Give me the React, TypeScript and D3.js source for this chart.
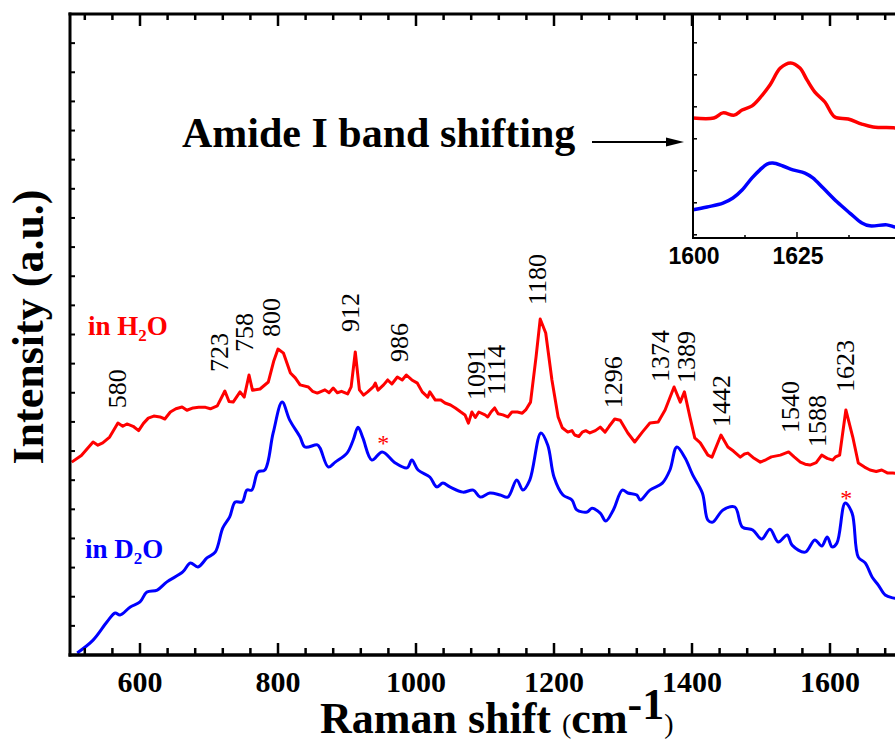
import React from 'react';
import * as d3 from 'd3';

type Pt = [number, number];

// Raman spectrum in H2O: [shift (cm-1), intensity (a.u.)]
const h2oSpectrum: Pt[] = [
  [501, 6.62], [515, 6.85], [532, 7.31], [539, 7.2], [546, 7.28], [556, 7.48], [568, 7.96], [575, 7.85],
  [581, 7.93], [590, 7.85], [598, 7.7], [605, 7.95], [612, 8.13], [620, 8.2], [629, 8.17], [636, 8.1],
  [644, 8.34], [652, 8.45], [661, 8.51], [668, 8.4], [677, 8.48], [685, 8.5], [695, 8.5], [702, 8.45],
  [712, 8.55], [723, 9.06], [729, 8.7], [735, 8.68], [745, 9.03], [751, 8.85], [758, 9.61], [763, 9.09],
  [774, 9.13], [786, 9.37], [794, 10.1], [800, 10.5], [808, 10.36], [818, 9.68], [825, 9.51], [832, 9.27],
  [844, 9.2], [850, 9.05], [857, 8.99], [868, 9.1], [874, 9.0], [880, 9.16], [886, 9.0], [892, 9.05],
  [901, 8.96], [906, 9.2], [912, 10.4], [918, 9.1], [924, 8.92], [930, 9.03], [938, 9.2], [941, 9.33],
  [945, 9.09], [953, 9.27], [959, 9.44], [965, 9.3], [973, 9.54], [980, 9.44], [986, 9.61], [994, 9.44],
  [1002, 9.33], [1009, 9.03], [1017, 8.85], [1020, 9.03], [1028, 8.75], [1036, 8.75], [1042, 8.65],
  [1050, 8.58], [1057, 8.48], [1065, 8.34], [1071, 8.24], [1076, 7.96], [1081, 8.34], [1086, 8.15],
  [1091, 8.34], [1100, 8.24], [1104, 8.17], [1109, 8.35], [1114, 8.48], [1119, 8.28], [1126, 8.24],
  [1133, 8.17], [1139, 8.34], [1147, 8.34], [1154, 8.3], [1159, 8.41], [1166, 8.68], [1174, 10.23],
  [1180, 11.53], [1188, 11.05], [1197, 9.44], [1206, 8.17], [1212, 7.8], [1220, 7.65], [1226, 7.7],
  [1230, 7.55], [1236, 7.5], [1241, 7.65], [1246, 7.7], [1252, 7.62], [1260, 7.7], [1267, 7.82],
  [1274, 7.65], [1280, 7.85], [1288, 8.1], [1296, 8.06], [1307, 7.62], [1317, 7.31], [1328, 7.65],
  [1339, 7.96], [1351, 8.0], [1361, 8.41], [1374, 9.2], [1383, 8.68], [1389, 9.03], [1397, 8.17],
  [1404, 7.45], [1412, 7.28], [1423, 6.86], [1429, 6.79], [1442, 7.55], [1452, 7.14], [1460, 7.0],
  [1470, 6.79], [1476, 6.9], [1481, 6.93], [1490, 6.75], [1499, 6.62], [1507, 6.7], [1515, 6.8],
  [1528, 6.86], [1540, 6.97], [1548, 6.8], [1557, 6.62], [1564, 6.55], [1571, 6.52], [1580, 6.6],
  [1588, 6.86], [1596, 6.75], [1604, 6.69], [1608, 6.8], [1614, 6.86], [1623, 8.41], [1633, 7.48],
  [1641, 6.59], [1650, 6.45], [1658, 6.35], [1667, 6.3], [1675, 6.35], [1683, 6.25], [1691, 6.25],
  [1700, 6.22],
];

// Raman spectrum in D2O: [shift (cm-1), intensity (a.u.)]
const d2oSpectrum: Pt[] = [
  [509, 0.07], [532, 0.51], [552, 1.13], [564, 1.44], [571, 1.37], [586, 1.65], [600, 1.82], [610, 2.16],
  [625, 2.23], [639, 2.51], [662, 2.85], [673, 3.16], [684, 3.02], [697, 3.33], [709, 3.53], [720, 4.36],
  [730, 4.74], [738, 5.25], [748, 5.25], [755, 5.66], [762, 5.66], [771, 6.28], [781, 6.35], [793, 7.62],
  [806, 8.68], [817, 8.06], [832, 7.48], [839, 7.14], [857, 7.21], [861, 7.1], [873, 6.45], [883, 6.62],
  [900, 6.93], [909, 7.38], [916, 7.82], [923, 7.45], [936, 6.69], [951, 6.97], [970, 6.59], [987, 6.42],
  [994, 6.69], [1003, 6.35], [1020, 6.11], [1030, 5.77], [1039, 5.9], [1049, 5.77], [1068, 5.59],
  [1083, 5.66], [1093, 5.42], [1107, 5.56], [1122, 5.49], [1133, 5.42], [1146, 6.01], [1155, 5.66],
  [1165, 6.01], [1181, 7.62], [1191, 7.2], [1200, 6.11], [1213, 5.49], [1226, 5.32], [1233, 4.98],
  [1248, 4.91], [1255, 5.04], [1267, 4.87], [1275, 4.6], [1286, 4.98], [1299, 5.66], [1307, 5.56],
  [1320, 5.49], [1325, 5.32], [1339, 5.66], [1357, 5.9], [1368, 6.35], [1378, 7.14], [1390, 6.76],
  [1401, 6.18], [1415, 5.56], [1423, 4.63], [1430, 4.56], [1445, 4.98], [1462, 5.08], [1473, 4.39],
  [1488, 4.29], [1501, 3.98], [1513, 4.32], [1525, 3.88], [1538, 4.12], [1545, 3.77], [1564, 3.53],
  [1578, 3.95], [1588, 3.74], [1596, 4.05], [1603, 3.71], [1610, 3.84], [1622, 5.22], [1632, 4.87],
  [1641, 3.36], [1651, 3.16], [1661, 2.68], [1670, 2.4], [1680, 2.06], [1691, 1.96], [1700, 1.93],
];

// Amide I region, zoomed
const h2oAmide: Pt[] = [
  [1600, 3.65], [1605, 3.65], [1607.2, 3.81], [1609.9, 3.74], [1611.8, 3.9], [1614.2, 4.03],
  [1616.1, 4.28], [1618.5, 4.68], [1621, 5.21], [1623.5, 5.37], [1625.7, 5.21], [1627.4, 4.84],
  [1629.3, 4.46], [1631.7, 4.15], [1634.1, 3.68], [1637.3, 3.62], [1640.6, 3.46], [1643.3, 3.37],
  [1648.6, 3.34], [1650, 3.31],
];
const d2oAmide: Pt[] = [
  [1600, 0.78], [1603.4, 0.87], [1607.2, 0.99], [1609.6, 1.15], [1611.8, 1.4], [1614.2, 1.78],
  [1616.1, 2.03], [1617.8, 2.21], [1619.2, 2.24], [1621.6, 2.15], [1624, 2.03], [1626.9, 1.93],
  [1628.8, 1.78], [1631.3, 1.46], [1634.6, 1.03], [1637.7, 0.68], [1640.6, 0.37], [1642.5, 0.28],
  [1646.6, 0.31], [1648.6, 0.24], [1650, 0.22],
];

const peakLabels = [580, 723, 758, 800, 912, 986, 1091, 1114, 1180, 1296, 1374, 1389, 1442, 1540, 1588, 1623];
// per-label horizontal nudge and lift above the H2O trace, px
const peakLabelNudge: [number, number][] = [
  [-9, 16], [-6, 19], [-5, 23], [-7, 12], [-5, 20], [-7, 13], [-3, 12], [1, 13],
  [-3, 14], [-7, 12], [-14, 5], [2, 9], [0, 8], [1, 19], [-5, 8], [-1, 18],
];
const d2oMarked = [951, 1622];

const xTickLabels = [600, 800, 1000, 1200, 1400, 1600];
const insetTickLabels = [1600, 1625];

const SERIF = "'Times New Roman', 'Liberation Serif', serif";
const SANS = "Arial, 'Liberation Sans', sans-serif";

function valueAt(data: Pt[], w: number) {
  const i = d3.bisector((d: Pt) => d[0]).left(data, w);
  if (i <= 0) return data[0][1];
  if (i >= data.length) return data[data.length - 1][1];
  const a = data[i - 1], b = data[i];
  return a[1] + ((w - a[0]) / (b[0] - a[0])) * (b[1] - a[1]);
}

export default function App() {
  const x = d3.scaleLinear().domain([500, 1700]).range([71, 899]);
  const y = d3.scaleLinear().domain([0, 22]).range([655, 14]);
  const ix = d3.scaleLinear().domain([1600, 1650]).range([693, 901]);
  const iy = d3.scaleLinear().domain([-0.1, 6.9]).range([238, 14]);

  const rough = d3.line<Pt>().x((d) => x(d[0])).y((d) => y(d[1]));
  const smooth = d3.line<Pt>().x((d) => x(d[0])).y((d) => y(d[1])).curve(d3.curveCatmullRom.alpha(0.5));
  const insetLine = d3.line<Pt>().x((d) => ix(d[0])).y((d) => iy(d[1])).curve(d3.curveCatmullRom.alpha(0.5));

  const xTicks = d3.range(520, 1700, 40);
  const yTicks = d3.range(1, 22);
  const insetYTicks = d3.range(0, 7);
  const insetXTicks = [1612.5, 1625, 1637.5];

  const left = 70, top = 14, bottom = 655;

  return (
    <svg width={895} height={742} style={{ position: 'absolute', left: 0, top: 0, background: '#fff' }}>
      <rect x={0} y={0} width={895} height={742} fill="#fff" />

      {/* spectra */}
      <path d={rough(h2oSpectrum) || ''} fill="none" stroke="#ff0000" strokeWidth={3} strokeLinejoin="round" />
      <path d={smooth(d2oSpectrum) || ''} fill="none" stroke="#0000ff" strokeWidth={3} strokeLinejoin="round" />

      {/* peak assignments */}
      {peakLabels.map((p, i) => {
        const [dx, lift] = peakLabelNudge[i];
        const cx = x(p) + dx;
        const by = y(valueAt(h2oSpectrum, p)) - lift;
        return (
          <text key={p} transform={`translate(${cx + 9},${by}) rotate(-90)`} fontFamily={SERIF} fontSize={26} fill="#000">
            {p}
          </text>
        );
      })}
      {d2oMarked.map((p, i) => (
        <text key={p} x={x(p) + 1} y={y(valueAt(d2oSpectrum, p)) - (i === 0 ? 1 : -3)}
          fontFamily={SERIF} fontSize={24} fill="#ff0000" textAnchor="middle">*</text>
      ))}

      {/* series labels */}
      <text x={88} y={335} fontFamily={SERIF} fontWeight="bold" fontSize={27} fill="#ff0000">
        in H<tspan fontSize={17} dy={6}>2</tspan><tspan dy={-6}>O</tspan>
      </text>
      <text x={85} y={558} fontFamily={SERIF} fontWeight="bold" fontSize={27} fill="#0000ff">
        in D<tspan fontSize={17} dy={6}>2</tspan><tspan dy={-6}>O</tspan>
      </text>

      {/* inset */}
      <rect x={693} y={top} width={210} height={238 - top} fill="#fff" />
      <path d={insetLine(h2oAmide) || ''} fill="none" stroke="#ff0000" strokeWidth={3.5} />
      <path d={insetLine(d2oAmide) || ''} fill="none" stroke="#0000ff" strokeWidth={3.5} />
      <line x1={693} x2={693} y1={top} y2={239} stroke="#000" strokeWidth={2} />
      <line x1={692} x2={902} y1={238} y2={238} stroke="#000" strokeWidth={2} />
      {insetYTicks.map((t) => (
        <line key={t} x1={693} x2={697} y1={iy(t)} y2={iy(t)} stroke="#000" strokeWidth={1.5} />
      ))}
      {insetXTicks.map((t) => (
        <line key={t} x1={ix(t)} x2={ix(t)} y1={238} y2={t === 1625 ? 232 : 235} stroke="#000" strokeWidth={1.5} />
      ))}
      {insetTickLabels.map((t) => (
        <text key={t} x={ix(t) + 1} y={264} textAnchor="middle" fontFamily={SANS} fontWeight="bold" fontSize={23}>
          {t}
        </text>
      ))}

      <text x={182} y={147} fontFamily={SERIF} fontWeight="bold" fontSize={42} fill="#000">Amide I band shifting</text>
      <line x1={592} x2={668} y1={142} y2={142} stroke="#000" strokeWidth={2} />
      <path d="M 684 142 L 666 137.5 L 666 146.5 Z" fill="#000" />

      {/* frame and ticks */}
      <line x1={left} x2={left} y1={top - 1.5} y2={bottom + 1.5} stroke="#000" strokeWidth={3} />
      <line x1={left - 1.5} x2={900} y1={top} y2={top} stroke="#000" strokeWidth={3} />
      <line x1={left - 1.5} x2={900} y1={bottom} y2={bottom} stroke="#000" strokeWidth={3.5} />
      {yTicks.map((t) => (
        <line key={t} x1={left} x2={left + 5} y1={y(t)} y2={y(t)} stroke="#000" strokeWidth={2} />
      ))}
      {xTicks.map((t) => {
        const major = t % 200 === 0;
        return (
          <g key={t}>
            <line x1={x(t)} x2={x(t)} y1={top} y2={top + (major ? 12 : 6)} stroke="#000" strokeWidth={2.5} />
            <line x1={x(t)} x2={x(t)} y1={bottom} y2={bottom - (major ? 12 : 7)} stroke="#000" strokeWidth={2.5} />
          </g>
        );
      })}
      {xTickLabels.map((t) => (
        <text key={t} x={x(t)} y={692} textAnchor="middle" fontFamily={SERIF} fontWeight="bold" fontSize={30}>
          {t}
        </text>
      ))}

      {/* axis titles */}
      <text transform="translate(43,327) rotate(-90)" textAnchor="middle" fontFamily={SERIF} fontWeight="bold" fontSize={44}>
        Intensity (a.u.)
      </text>
      <text x={320} y={733} fontFamily={SERIF} fontSize={44} fill="#000">
        <tspan fontWeight="bold">Raman shift </tspan>
        <tspan fontSize={28}>(</tspan>
        <tspan fontWeight="bold">cm</tspan>
        <tspan fontWeight="bold" dy={-14}>-1</tspan>
        <tspan fontSize={28} dy={14}>)</tspan>
      </text>
    </svg>
  );
}
